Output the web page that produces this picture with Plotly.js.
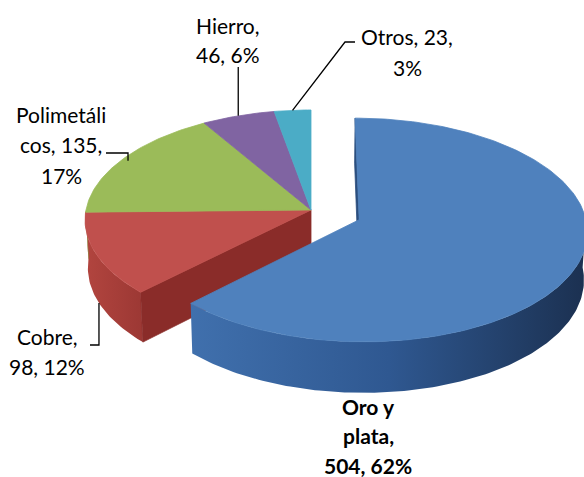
<!DOCTYPE html>
<html><head><meta charset="utf-8">
<script src="https://cdn.plot.ly/plotly-3.0.1.min.js"></script>
<style>html,body{margin:0;padding:0;background:#fff;}#chart{width:584px;height:477px;}</style>
</head><body><div id="chart"></div>
<script>
// ---- data ----
const categories = ['Oro y plata', 'Cobre', 'Polimetálicos', 'Hierro', 'Otros'];
const values = [504, 98, 135, 46, 23];
const percentLabels = ['62%', '12%', '17%', '6%', '3%'];

// ---- styles / layout constants ----
const topColors = ['#4F81BD', '#C0504D', '#9BBB59', '#8064A2', '#4BACC6'];
const rimGradients = [
  [[0, '#4070AD'], [0.5, '#2F5891'], [1, '#1B3050']],
  [[0, '#B2453F'], [1, '#9C3834']],
  [[0, '#83A046'], [1, '#83A046']],
  [[0, '#6A5088'], [1, '#6A5088']],
  [[0, '#3B93AB'], [1, '#3B93AB']]
];
const faceColors = ['#2B4E7E', '#8A2C29', '#7A9840', '#5E4580', '#358BA3'];
const pullDist = [0.23, 0, 0, 0, 0];
const lineBreaks = [[5, 12], [6], [10, 19], [7], [10]];
// label block: x centre, first line centre y, line spacing
const labelPos = [[368, 406, 29.5], [47, 336, 30], [61, 114, 30.5], [228, 25, 29], [407, 36, 31]];
const labelBold = [true, false, false, false, false];
const CAM = {cx: 311, cy: 210, f: 2160, D: 9.6, sinP: 0.485, cosP: 0.8745, h: 0.245};

function dirv(a) { const r = a * Math.PI / 180; return [Math.sin(r), Math.cos(r)]; }
function proj(X, Y, Z) {
  const u = Y * CAM.cosP + Z * CAM.sinP;
  const v = -Y * CAM.sinP + Z * CAM.cosP;
  const dep = CAM.D + v;
  return [CAM.cx + CAM.f * X / dep, CAM.cy - CAM.f * u / dep];
}
const total = values.reduce((s, v) => s + v, 0);
const slices = [];
let cum = 0;
values.forEach((v, i) => {
  const a0 = cum / total * 360; cum += v; const a1 = cum / total * 360;
  const mid = (a0 + a1) / 2; const md = dirv(mid);
  slices.push({a0, a1, mid, ox: pullDist[i] * md[0], oz: pullDist[i] * md[1]});
});
function pt(s, a, rho, Y) { const d = dirv(a); return proj(s.ox + rho * d[0], Y, s.oz + rho * d[1]); }
function arc(s, from, to, Y) {
  const n = Math.max(2, Math.ceil(Math.abs(to - from)));
  const out = [];
  for (let k = 0; k <= n; k++) out.push(pt(s, from + (to - from) * k / n, 1, Y));
  return out;
}
function poly(points, color, grad) {
  const xs = points.map(p => p[0]); const ys = points.map(p => p[1]);
  xs.push(xs[0]); ys.push(ys[0]);
  const tr = {type: 'scatter', mode: 'lines', x: xs, y: ys, fill: 'toself',
    line: {color: color, width: 0.8}, fillcolor: color, hoverinfo: 'skip', showlegend: false};
  if (grad) { tr.fillgradient = {type: 'horizontal', colorscale: grad}; tr.line.color = 'rgba(0,0,0,0)'; tr.line.width = 0; }
  return tr;
}
function faceVisible(s, a, isStart) {
  const n = dirv(isStart ? a - 90 : a + 90);
  const d = dirv(a);
  const px = s.ox + 0.5 * d[0], pz = s.oz + 0.5 * d[1];
  const cz = -CAM.D * CAM.cosP;
  return n[0] * (0 - px) + n[1] * (cz - pz) > 1e-6;
}
function groupTraces(idxs) {
  const tr = [];
  const h = -CAM.h;
  idxs.forEach(i => { // rims
    const s = slices[i];
    const st = Math.max(s.a0, 90), en = Math.min(s.a1, 270);
    if (en > st) {
      const top = arc(s, st, en, 0), bot = arc(s, en, st, h);
      tr.push(poly(top.concat(bot), rimGradients[i][0][1], rimGradients[i]));
    }
  });
  idxs.forEach(i => { // exposed radial faces
    const s = slices[i], n = values.length;
    const prev = (i - 1 + n) % n, next = (i + 1) % n;
    [[s.a0, true, prev], [s.a1, false, next]].forEach(([a, isStart, nb]) => {
      if (pullDist[nb] === pullDist[i]) return;
      if (!faceVisible(s, a, isStart)) return;
      const c0 = proj(s.ox, 0, s.oz), c1 = proj(s.ox, h, s.oz);
      tr.push(poly([c0, pt(s, a, 1, 0), pt(s, a, 1, h), c1], faceColors[i]));
    });
  });
  idxs.forEach(i => { // top faces
    const s = slices[i];
    tr.push(poly([proj(s.ox, 0, s.oz)].concat(arc(s, s.a0, s.a1, 0)), topColors[i]));
  });
  return tr;
}
const stayIdx = values.map((v, i) => i).filter(i => pullDist[i] === 0);
const pullIdx = values.map((v, i) => i).filter(i => pullDist[i] !== 0);
const traces = groupTraces(stayIdx).concat(groupTraces(pullIdx));

// labels: one annotation per wrapped line
const annotations = [];
categories.forEach((c, i) => {
  const full = `${c}, ${values[i]}, ${percentLabels[i]}`;
  const cuts = [0].concat(lineBreaks[i], [full.length]);
  for (let k = 0; k < cuts.length - 1; k++) {
    const line = full.slice(cuts[k], cuts[k + 1]).trim();
    annotations.push({x: labelPos[i][0], y: labelPos[i][1] + k * labelPos[i][2], xref: 'x', yref: 'y',
      showarrow: false, text: labelBold[i] ? '<b>' + line + '</b>' : line,
      xanchor: 'center', yanchor: 'middle',
      font: {family: 'Lato, "Open Sans", sans-serif', size: 21, color: '#000'}});
  }
});

// leader lines anchored on slice geometry
const ln = {color: '#000', width: 1.3};
const aH = pt(slices[3], slices[3].mid, 1, 0);
const aO = pt(slices[4], slices[4].mid, 1, 0);
const aP = pt(slices[2], slices[2].mid, 0.97, 0);
const aC = pt(slices[1], slices[1].mid, 1, -CAM.h);
const shapes = [
  {type: 'path', xref: 'x', yref: 'y', path: `M ${aH[0]},${aH[1]} L ${aH[0]},67`, line: ln},
  {type: 'path', xref: 'x', yref: 'y', path: `M ${aO[0]},${aO[1]} L 345,42 L 355,42`, line: ln},
  {type: 'path', xref: 'x', yref: 'y', path: `M 106,153 L ${aP[0]},153 L ${aP[0]},${aP[1]}`, line: ln},
  {type: 'path', xref: 'x', yref: 'y', path: `M ${aC[0]},${aC[1]} L ${aC[0]},345 L 90,345`, line: ln}
];

const layout = {
  width: 584, height: 477, margin: {l: 0, r: 0, t: 0, b: 0},
  paper_bgcolor: '#fff', plot_bgcolor: '#fff', showlegend: false,
  xaxis: {range: [0, 584], visible: false, fixedrange: true},
  yaxis: {range: [477, 0], visible: false, fixedrange: true},
  annotations, shapes
};
Plotly.newPlot('chart', traces, layout, {displayModeBar: false, staticPlot: true});
</script></body></html>
